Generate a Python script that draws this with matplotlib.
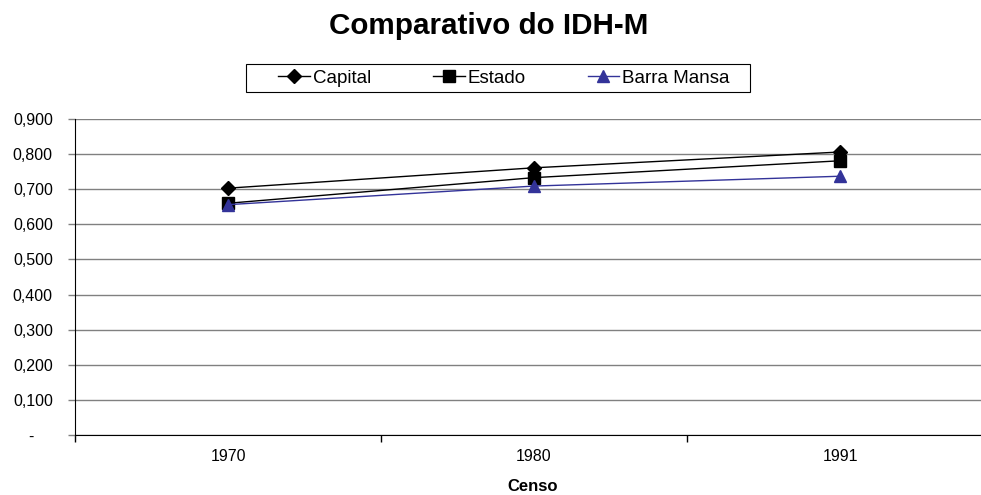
import matplotlib.pyplot as plt
from matplotlib.patches import Rectangle
from matplotlib.ticker import FixedLocator, FuncFormatter

# census years and IDH-M values
anos = ["1970", "1980", "1991"]
capital = [0.703, 0.761, 0.806]
estado = [0.660, 0.733, 0.781]
barra_mansa = [0.656, 0.709, 0.737]

plt.rcParams["font.family"] = ["Liberation Sans", "DejaVu Sans"]

W, H = 981, 495
fig = plt.figure(figsize=(W / 100, H / 100), dpi=100)
ax = fig.add_axes([75 / W, 1 - 435 / H, (993 - 75) / W, (435 - 119) / H])

x = list(range(len(anos)))
ax.plot(x, capital, color="black", lw=1, marker="D", ms=7, mfc="black", label="Capital", zorder=3)
ax.plot(x, estado, color="black", lw=1, marker="s", ms=9, mfc="black", label="Estado", zorder=3)
ax.plot(x, barra_mansa, color="#333399", lw=1, marker="^", ms=9, mfc="#333399",
        mec="#333399", label="Barra Mansa", zorder=4)

ax.set_xlim(-0.5, len(anos) - 0.5)
ax.set_ylim(0, 0.9)
ax.set_yticks([i / 10 for i in range(10)])
ax.yaxis.set_major_formatter(
    FuncFormatter(lambda v, p: "-    " if v == 0 else f"{v:.3f}".replace(".", ",")))
ax.yaxis.grid(True, color="#808080", lw=1)
ax.set_axisbelow(True)

ax.xaxis.set_major_locator(FixedLocator([-0.5, 0.5, 1.5, 2.5]))
ax.xaxis.set_major_formatter(FuncFormatter(lambda v, p: ""))
ax.set_xticks(x, labels=anos, minor=True)
ax.tick_params(axis="x", which="major", direction="out", length=5, width=1, color="black")
ax.tick_params(axis="x", which="minor", length=0, pad=10, labelsize=11.5)
ax.tick_params(axis="y", direction="out", length=5, width=1, color="#808080",
               labelsize=11.5, pad=11)

for s in ["top", "right"]:
    ax.spines[s].set_visible(False)
ax.spines["left"].set_color("black")
ax.spines["bottom"].set_color("black")

fig.text(533 / W, 1 - 491 / H, "Censo", ha="center", va="baseline", fontsize=12, fontweight="bold")
fig.text(489 / W, 1 - 34 / H, "Comparativo do IDH-M", ha="center", va="baseline",
         fontsize=21.3, fontweight="bold")

# legend frame drawn on its own, entries placed inside it
fig.patches.append(Rectangle((246 / W, 1 - 92 / H), (750 - 246) / W, (92 - 64) / H,
                             transform=fig.transFigure, fill=False, ec="black", lw=0.8))
fig.legend(loc="center left", bbox_to_anchor=(278 / W, 1 - 78 / H), ncol=3, frameon=False,
           fontsize=13.5, handlelength=1.7, handletextpad=0.15, columnspacing=3.3,
           borderpad=0, borderaxespad=0)

fig.savefig("out.png", dpi=100)
